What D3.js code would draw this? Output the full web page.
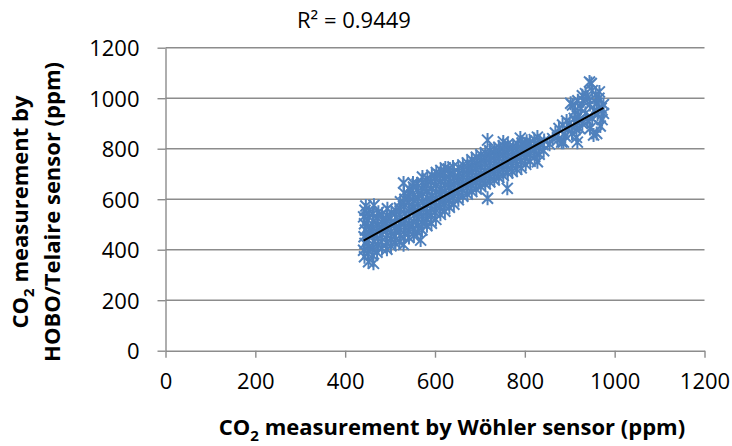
<!DOCTYPE html>
<html>
<head>
<meta charset="utf-8">
<script src="https://cdn.jsdelivr.net/npm/d3@7"></script>
<style>
  html, body { margin: 0; padding: 0; background: #fff; }
  svg { display: block; }
  text { font-family: "Open Sans", Lato, sans-serif; fill: #000; }
</style>
</head>
<body>
<svg id="chart" width="732" height="446"></svg>
<script>
// Paired CO2 readings: [Wöhler ppm, HOBO/Telaire ppm]
const readings = [
  [443,372],[441,398],[444,425],[442,451],[445,478],[443,503],[441,530],[444,556],[446,573],
  [452,352],[450,385],[453,412],[451,440],[454,466],[452,492],[450,520],[453,545],
  [463,346],[461,378],[460,405],[464,432],[462,458],[460,486],[463,512],[461,540],[464,576],
  [471,390],[474,418],[472,446],[470,474],[473,500],[471,527],[474,548],
  [482,405],[480,432],[483,460],[481,488],[484,514],[482,540],
  [493,402],[491,428],[494,456],[492,482],[490,510],[493,536],[494,562],
  [502,415],[504,442],[501,470],[503,497],[500,522],[503,546],
  [512,425],[510,452],[513,478],[511,505],[514,530],[512,555],
  [521,430],[523,458],[520,484],[524,510],[522,537],[521,565],[523,590],
  [530,420],[533,462],[531,490],[534,516],[532,544],[530,572],[533,600],[531,625],[530,664],
  [542,448],[540,476],[543,503],[541,530],[544,558],[542,586],[540,612],[543,640],
  [551,664],[553,455],[550,482],[552,510],[554,538],[551,566],[553,594],[550,620],[552,648],
  [568,438],[561,470],[563,497],[560,525],[564,552],[562,580],[561,607],[563,633],[560,660],
  [572,688],[571,478],[573,505],[570,532],[574,560],[572,587],[570,614],[573,640],[571,666],
  [582,495],[580,522],[583,550],[581,578],[584,604],[582,630],[580,656],[583,682],
  [592,505],[590,532],[593,560],[591,588],[594,615],[592,642],[590,668],[593,695],
  [602,520],[600,548],[603,575],[601,602],[604,628],[602,655],[600,682],[603,706],
  [612,540],[610,566],[613,592],[611,618],[614,644],[612,670],[610,696],[613,714],
  [622,552],[620,578],[623,604],[621,630],[624,656],[622,682],[620,706],[623,724],
  [632,568],[630,594],[633,620],[631,646],[634,672],[632,698],[630,720],
  [642,580],[640,606],[643,632],[641,658],[644,684],[642,708],[640,728],
  [652,598],[650,624],[653,650],[651,676],[654,702],[652,726],
  [662,612],[660,638],[663,664],[661,690],[664,714],[662,736],
  [672,620],[670,646],[673,672],[671,698],[674,722],[672,744],
  [682,630],[680,656],[683,682],[681,708],[684,732],[682,756],
  [692,640],[690,666],[693,692],[691,718],[694,742],[692,766],
  [702,650],[700,676],[703,702],[701,728],[704,752],[702,776],
  [717,604],[712,660],[710,686],[713,712],[711,738],[714,762],[712,784],[717,834],
  [722,668],[720,694],[723,720],[721,746],[724,770],[722,792],
  [732,676],[730,702],[733,728],[731,754],[734,778],[732,798],
  [742,686],[740,712],[743,738],[741,764],[744,788],[742,806],
  [752,827],[761,643],[752,694],[750,720],[753,746],[751,772],[754,796],[752,812],
  [762,704],[760,730],[763,756],[761,782],[764,804],[762,818],
  [772,710],[770,736],[773,762],[771,788],[774,810],
  [782,718],[780,744],[783,770],[781,796],[784,818],
  [790,842],[792,724],[790,750],[793,776],[791,802],[794,822],
  [802,738],[800,764],[803,790],[801,814],[804,830],
  [812,750],[810,776],[813,802],[811,824],
  [828,748],[828,846],[822,768],[820,794],[823,818],[821,836],
  [832,778],[830,804],[833,826],
  [842,792],[840,816],[843,832],
  [855,818],[862,840],[873,834],[882,826],[868,862],[884,894],[876,880],
  [886,826],[890,850],[895,875],[900,900],[893,910],[905,860],[910,885],[917,826],[915,845],
  [906,973],[912,950],[920,930],[925,960],[930,990],[935,940],[940,910],[945,880],[950,920],
  [955,950],[960,980],[965,1000],[970,960],[975,940],[972,915],[968,890],[960,860],[953,854],
  [944,1064],[948,1058],[950,1030],[958,1015],[940,1000],[935,1018],[928,1010],[928,900],
  [922,880],[915,905],[910,920],[945,975],[962,935],[975,975],[966,1025],[918,990],[902,980]
];

// Linear trendline fitted to the readings
const trendSlope = 0.985;
const trendIntercept = 1.5;
const rSquaredLabel = "R² = 0.9449";

const xTicks = [0, 200, 400, 600, 800, 1000, 1200];
const yTicks = [0, 200, 400, 600, 800, 1000, 1200];

const svg = d3.select("#chart");

const x = d3.scaleLinear().domain([0, 1200]).range([165.5, 704.5]);
const y = d3.scaleLinear().domain([0, 1200]).range([350.7, 47.7]);

const gridColor = "#8c8c8c";
const fontFamily = "'Open Sans', Lato, sans-serif";

// Horizontal gridlines
svg.append("g")
  .selectAll("line")
  .data(yTicks.filter(d => d > 0))
  .join("line")
  .attr("x1", x(0)).attr("x2", x(1200))
  .attr("y1", d => y(d)).attr("y2", d => y(d))
  .attr("stroke", gridColor).attr("stroke-width", 1.4);

// Y axis
const yAxis = svg.append("g")
  .attr("transform", `translate(${x(0)},0)`)
  .call(d3.axisLeft(y).tickValues(yTicks).tickFormat(d3.format("d"))
    .tickSize(8).tickSizeOuter(0).tickPadding(18));
yAxis.select(".domain").attr("stroke", gridColor).attr("stroke-width", 1.4);
yAxis.selectAll(".tick line").attr("stroke", gridColor).attr("stroke-width", 1.4);
yAxis.selectAll(".tick text")
  .style("font-family", fontFamily)
  .attr("font-size", 22).attr("fill", "#000").attr("dy", "0.36em");

// X axis
const xAxis = svg.append("g")
  .attr("transform", `translate(0,${y(0)})`)
  .call(d3.axisBottom(x).tickValues(xTicks).tickFormat(d3.format("d"))
    .tickSize(7).tickSizeOuter(0).tickPadding(16));
xAxis.select(".domain").attr("stroke", gridColor).attr("stroke-width", 1.4);
xAxis.selectAll(".tick line").attr("stroke", gridColor).attr("stroke-width", 1.4);
xAxis.selectAll(".tick text")
  .style("font-family", fontFamily)
  .attr("font-size", 22).attr("fill", "#000").attr("dy", "0.71em");

// Star markers (X with a vertical stroke)
const star = "M-5.5,-5.5L5.5,5.5M-5.5,5.5L5.5,-5.5M0,-7L0,7";
svg.append("g")
  .selectAll("path")
  .data(readings)
  .join("path")
  .attr("d", star)
  .attr("transform", d => `translate(${x(d[0])},${y(d[1])})`)
  .attr("fill", "none")
  .attr("stroke", "#4F81BD")
  .attr("stroke-width", 2);

// Trendline across the observed Wöhler range
const xExtent = d3.extent(readings, d => d[0]);
svg.append("line")
  .attr("x1", x(xExtent[0])).attr("y1", y(trendSlope * xExtent[0] + trendIntercept))
  .attr("x2", x(xExtent[1])).attr("y2", y(trendSlope * xExtent[1] + trendIntercept))
  .attr("stroke", "#000").attr("stroke-width", 2);

// R² annotation
svg.append("text")
  .attr("x", 297).attr("y", 28)
  .attr("font-size", 22)
  .text(rSquaredLabel);

// X axis title
const xt = svg.append("text")
  .attr("x", 452).attr("y", 435)
  .attr("text-anchor", "middle")
  .attr("font-size", 22).attr("font-weight", "bold");
xt.append("tspan").text("CO");
xt.append("tspan").attr("dy", 6).attr("font-size", 15).text("2");
xt.append("tspan").attr("dy", -6).text(" measurement by Wöhler sensor (ppm)");

// Y axis title (two lines)
const yt = svg.append("text")
  .attr("transform", "translate(0,212) rotate(-90)")
  .attr("text-anchor", "middle")
  .attr("font-size", 22).attr("font-weight", "bold");
yt.append("tspan").attr("x", 0).attr("y", 28).text("CO");
yt.append("tspan").attr("dy", 6).attr("font-size", 15).text("2");
yt.append("tspan").attr("dy", -6).text(" measurement by");
yt.append("tspan").attr("x", 0).attr("y", 60).text("HOBO/Telaire sensor (ppm)");
</script>
</body>
</html>
